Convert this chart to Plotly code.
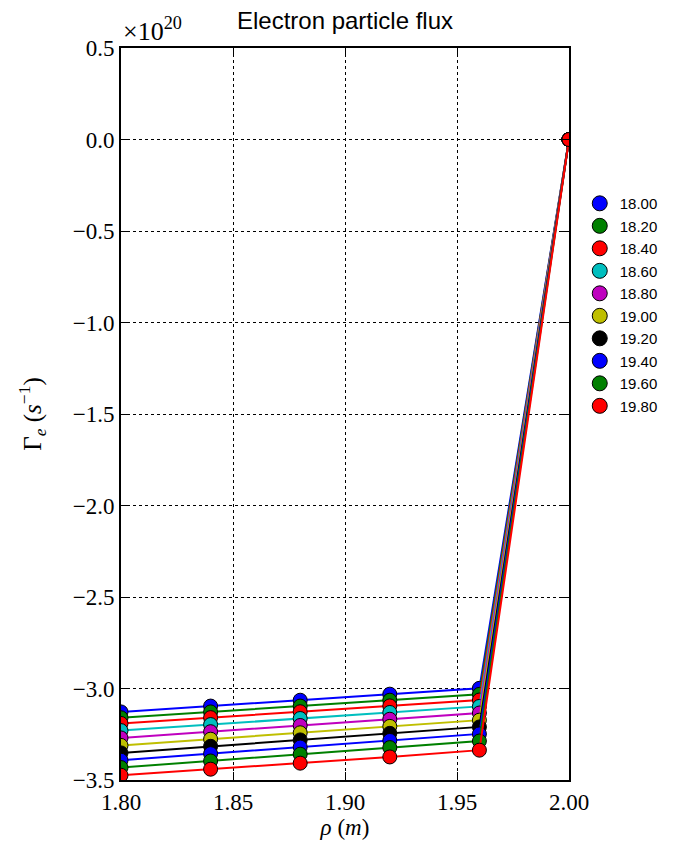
import plotly.graph_objects as go

rho = [1.80, 1.84, 1.88, 1.92, 1.96, 2.00]

labels = ["18.00", "18.20", "18.40", "18.60", "18.80",
          "19.00", "19.20", "19.40", "19.60", "19.80"]

# flux values in units of 1e20 s^-1
flux = [
    [-3.128, -3.096, -3.064, -3.031, -2.999, 0.0],
    [-3.160, -3.128, -3.096, -3.064, -3.032, 0.0],
    [-3.191, -3.159, -3.127, -3.095, -3.063, 0.0],
    [-3.230, -3.197, -3.164, -3.131, -3.098, 0.0],
    [-3.270, -3.236, -3.202, -3.168, -3.134, 0.0],
    [-3.311, -3.277, -3.242, -3.207, -3.173, 0.0],
    [-3.352, -3.316, -3.281, -3.245, -3.210, 0.0],
    [-3.392, -3.356, -3.320, -3.284, -3.248, 0.0],
    [-3.432, -3.396, -3.359, -3.323, -3.287, 0.0],
    [-3.474, -3.441, -3.408, -3.374, -3.337, 0.0],
]

colors = ["#0000ff", "#008000", "#ff0000", "#00bfbf", "#bf00bf",
          "#bfbf00", "#000000", "#0000ff", "#008000", "#ff0000"]

serif = "Liberation Serif"
sans = "Liberation Sans, Arial, sans-serif"

fig = go.Figure()

for lab, ys, col in zip(labels, flux, colors):
    fig.add_trace(go.Scatter(
        x=rho, y=ys, name=lab, mode="lines+markers",
        line=dict(color=col, width=2),
        marker=dict(size=14, color=col, line=dict(color="black", width=1)),
        showlegend=False))
    # legend entry: markers only, like the matplotlib legend
    fig.add_trace(go.Scatter(
        x=[None], y=[None], name=lab, mode="markers",
        marker=dict(size=15, color=col, line=dict(color="black", width=1))))

axis_common = dict(
    showline=True, linecolor="black", linewidth=2, mirror="ticks",
    ticks="inside", ticklen=8, tickwidth=1, tickcolor="black",
    showgrid=True, gridcolor="black", gridwidth=1, griddash="dot",
    zeroline=False,
    tickfont=dict(family=serif, size=23, color="black"),
)

fig.update_xaxes(range=[1.80, 2.00], dtick=0.05, tickformat=".2f",
                 title=dict(text="<i>ρ</i> (<i>m</i>)",
                            font=dict(family=serif, size=23, color="black"),
                            standoff=2),
                 **axis_common)
fig.update_yaxes(range=[-3.5, 0.5], dtick=0.5, tickformat=".1f",
                 title=dict(text="Γ<sub><i>e</i></sub> (<i>s</i><sup>−1</sup>)",
                            font=dict(family=serif, size=25, color="black"),
                            standoff=24),
                 **axis_common)

fig.add_annotation(text="×10<sup>20</sup>", xref="paper", yref="paper",
                   x=0.0, y=1.0, xanchor="left", yanchor="bottom", yshift=0,
                   showarrow=False,
                   font=dict(family=serif, size=26, color="black"))

# the page adds an 8 px body margin, so the figure is shrunk by that much
fig.update_layout(
    width=674, height=841,
    margin=dict(l=113, r=113, t=40, b=69),
    paper_bgcolor="white", plot_bgcolor="white",
    title=dict(text="Electron particle flux", x=0.5, xref="paper",
               y=1 - 13 / 841, yanchor="middle",
               font=dict(family=sans, size=24, color="black")),
    legend=dict(x=1.024, y=0.81, xanchor="left", yanchor="top",
                font=dict(family=sans, size=15, color="black"),
                bgcolor="rgba(0,0,0,0)", borderwidth=0,
                itemwidth=30, tracegroupgap=0),
)

fig.write_html("out.html")
